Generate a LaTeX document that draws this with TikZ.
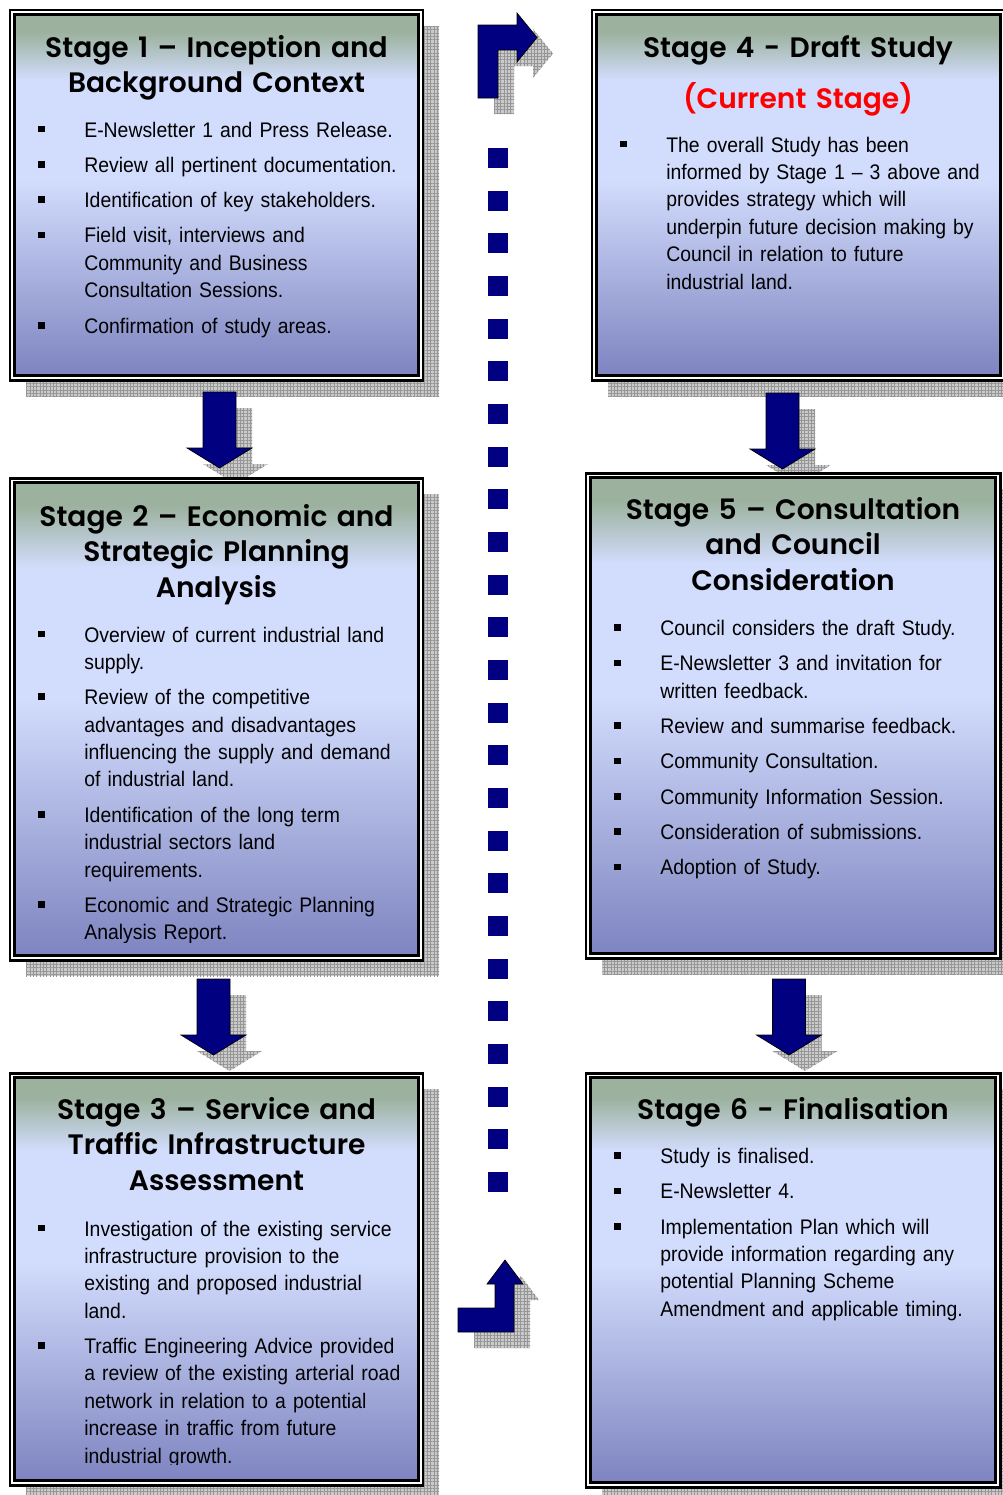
\documentclass[tikz,border=0pt]{standalone}
\usepackage{fontspec}
\setmainfont{Liberation Sans}
\newfontfamily\bodyfont[FakeStretch=0.92]{Liberation Sans}
\newfontfamily\titlefont[BoldFont={Poppins SemiBold}]{Poppins}
\usetikzlibrary{fit,patterns.meta}

\definecolor{navyArrow}{RGB}{0,0,128}
\definecolor{stageGreen}{RGB}{156,178,158}
\definecolor{stageLight}{RGB}{210,220,252}
\definecolor{stageDark}{RGB}{126,132,192}
\definecolor{shadowGray}{RGB}{202,202,202}
\definecolor{gridGray}{RGB}{150,150,150}

\pgfdeclareverticalshading{stageShade}{100bp}{color(0bp)=(stageDark); color(25bp)=(stageDark);
  color(52bp)=(stageLight); color(66bp)=(stageLight); color(72.5bp)=(stageGreen); color(100bp)=(stageGreen)}

\newcommand{\bitem}[1]{\hangindent=0.92cm\hangafter=1\noindent
  \makebox[0.92cm][l]{\rule[2.6pt]{3.8pt}{3.8pt}}{\let\\\newline #1}\par\vspace{4.5pt}}
\newcommand{\downArrowPath}{(-16.5,0) -- (16.5,0) -- (16.5,56) -- (32.5,56) -- (0,76) -- (-32.5,56) -- (-16.5,56) -- cycle}

\begin{document}
\begin{tikzpicture}
[x=0.02cm, y=-0.02cm,
  stageFrame/.style={draw=black, line width=1.7pt, fill=white},%
  stageBox/.style={draw=black, line width=1.4pt, shading=stageShade, inner sep=0pt},%
  boxShadow/.style={fill=shadowGray, postaction={pattern={Hatch[angle=0,distance=1.9pt,line width=0.3pt]}, pattern color=gridGray}},%
  blockArrow/.style={fill=navyArrow, draw=black, line width=0.4pt},%
  stageTitle/.style={font=\titlefont\bfseries\fontsize{16pt}{20.4pt}\selectfont, text width=7.6cm, align=center, anchor=base, inner sep=0pt},%
  stageItems/.style={font=\bodyfont\fontsize{12pt}{15.6pt}\selectfont, text width=7.8cm, anchor=base west, inner sep=0pt}]
\useasboundingbox (0,0) rectangle (1003,1495);

%% shadows of the stage boxes
\foreach \n/\xa/\ya/\xb/\yb in {1/10/10/423/380, 2/10/478/423/960, 3/10/1073/423/1485,
  4/592/10/1005/380, 5/586/473/1000/958, 6/586/1073/1000/1487}
{
  \fill[boxShadow] (\xa+16,\ya+16) rectangle (\xb+16,\yb+16);
}
%% shadows of the arrows
\foreach \cx/\ty in {219.5/392, 213.5/979, 782.5/393, 789/979}
{
  \path[boxShadow, shift={(\cx+16,\ty+16)}] \downArrowPath;
}

%% stage boxes
\foreach \n/\xa/\ya/\xb/\yb in {1/10/10/423/380, 2/10/478/423/960, 3/10/1073/423/1485,
  4/592/10/1005/380, 5/586/473/1000/958, 6/586/1073/1000/1487}
{
  \draw[stageFrame] (\xa,\ya) rectangle (\xb,\yb);
  \node[stageBox, fit={(\xa+4.5,\ya+4.5) (\xb-4.5,\yb-4.5)}] (s\n) {};
}

%% titles
\node[stageTitle] (t1) at (216.5,57) {Stage 1 – Inception and\\Background Context};
\node[stageTitle] (t2) at (216.5,526) {Stage 2 – Economic and\\Strategic Planning\\Analysis};
\node[stageTitle] (t3) at (216.5,1119) {Stage 3 – Service and\\Traffic Infrastructure\\Assessment};
\node[stageTitle] (t4) at (798,57) {Stage 4 - Draft Study};
\node[stageTitle, text=red] (t4c) at (798,108) {(Current Stage)};
\node[stageTitle] (t5) at (793,519) {Stage 5 – Consultation\\and Council\\Consideration};
\node[stageTitle] (t6) at (793,1119) {Stage 6 - Finalisation};

%% bullet lists
\node[stageItems] (i1) at (38,137) {%
  \bitem{E-Newsletter 1 and Press Release.}
  \bitem{Review all pertinent documentation.}
  \bitem{Identification of key stakeholders.}
  \bitem{Field visit, interviews and\\Community and Business\\Consultation Sessions.}
  \bitem{Confirmation of study areas.}};
\begin{scope}
  \clip (10,478) rectangle (423,942);
  \node[stageItems] (i2) at (38,642) {%
    \bitem{Overview of current industrial land\\supply.}
    \bitem{Review of the competitive\\advantages and disadvantages\\influencing the supply and demand\\of industrial land.}
    \bitem{Identification of the long term\\industrial sectors land\\requirements.}
    \bitem{Economic and Strategic Planning\\Analysis Report.}};
\end{scope}
\begin{scope}
  \clip (10,1073) rectangle (423,1464);
  \node[stageItems] (i3) at (38,1236) {%
    \bitem{Investigation of the existing service\\infrastructure provision to the\\existing and proposed industrial\\land.}
    \bitem{Traffic Engineering Advice provided\\a review of the existing arterial road\\network in relation to a potential\\increase in traffic from future\\industrial growth.}};
\end{scope}
\node[stageItems] (i4) at (620,152) {%
  \bitem{The overall Study has been\\informed by Stage 1 – 3 above and\\provides strategy which will\\underpin future decision making by\\Council in relation to future\\industrial land.}};
\node[stageItems] (i5) at (614,635.5) {%
  \bitem{Council considers the draft Study.}
  \bitem{E-Newsletter 3 and invitation for\\written feedback.}
  \bitem{Review and summarise feedback.}
  \bitem{Community Consultation.}
  \bitem{Community Information Session.}
  \bitem{Consideration of submissions.}
  \bitem{Adoption of Study.}};
\node[stageItems] (i6) at (614,1163.5) {%
  \bitem{Study is finalised.}
  \bitem{E-Newsletter 4.}
  \bitem{Implementation Plan which will\\provide information regarding any\\potential Planning Scheme\\Amendment and applicable timing.}};

%% down arrows between the stages
\foreach \cx/\ty in {219.5/392, 213.5/979, 782.5/393, 789/979}
{
  \path[blockArrow, shift={(\cx,\ty)}] \downArrowPath;
}

%% bent arrows and the dotted link
\foreach \sty/\d in {boxShadow/16, blockArrow/0}
{
  \path[\sty, shift={(\d,\d)}] (478,98) -- (478,25) -- (517,25) -- (517,13) -- (537,37.5)
    -- (517,62) -- (517,50) -- (498,50) -- (498,98) -- cycle;
  \path[\sty, shift={(\d,\d)}] (458,1308) -- (495,1308) -- (495,1284) -- (487,1284) -- (505,1260)
    -- (523,1284) -- (514,1284) -- (514,1332) -- (458,1332) -- cycle;
}
\foreach \i in {0,...,24}
{
  \fill[navyArrow] (488,{148+42.67*\i}) rectangle ++(20,20);
}
\end{tikzpicture}
\end{document}
